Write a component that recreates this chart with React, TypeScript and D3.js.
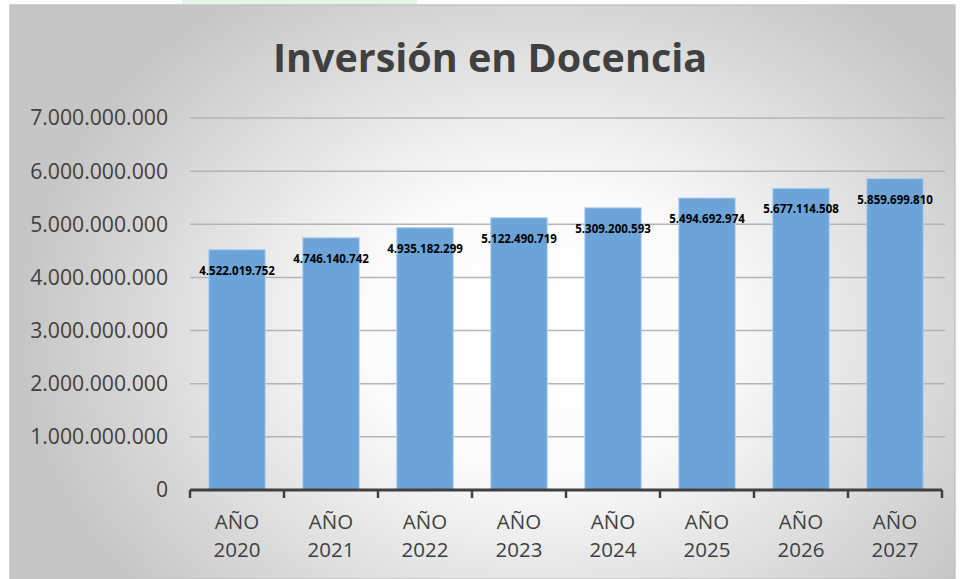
import React from "react";
import * as d3 from "d3";

// data
const years = ["2020", "2021", "2022", "2023", "2024", "2025", "2026", "2027"];
const values = [
  4522019752, 4746140742, 4935182299, 5122490719, 5309200593, 5494692974,
  5677114508, 5859699810,
];
const yTicks = [0, 1e9, 2e9, 3e9, 4e9, 5e9, 6e9, 7e9];
const title = "Inversión en Docencia";

const W = 960;
const H = 579;
const margin = { top: 118, right: 18, bottom: 89, left: 190 };

// es-style thousands separator
const fmt = (v: number) =>
  v === 0 ? "0" : d3.format(",")(v).replace(/,/g, ".");

export default function App() {
  const x = d3
    .scaleBand()
    .domain(years)
    .range([margin.left, 942])
    .paddingInner(0.4)
    .paddingOuter(0.2);

  const y = d3
    .scaleLinear()
    .domain([0, 7e9])
    .range([H - margin.bottom, margin.top]);

  const step = x.step();
  const boundaries = d3.range(years.length + 1).map((i) => margin.left + i * step);

  return (
    <svg
      width={W}
      height={H}
      style={{ position: "absolute", left: 0, top: 0 }}
      fontFamily="'Open Sans', sans-serif"
    >
      <defs>
        <radialGradient
          id="bg"
          gradientUnits="userSpaceOnUse"
          cx={540}
          cy={330}
          r={520}
          gradientTransform="translate(540 330) scale(1 0.78) translate(-540 -330)"
        >
          <stop offset="0" stopColor="#ffffff" />
          <stop offset="0.35" stopColor="#fbfbfb" />
          <stop offset="1" stopColor="#c6c6c6" />
        </radialGradient>
      </defs>
      <rect width={W} height={H} fill="#fff" />
      <rect x={182} y={0} width={235} height={6} fill="#e3f6ea" />
      <rect
        x={10}
        y={5}
        width={945}
        height={H - 5}
        fill="url(#bg)"
        stroke="#c4c4c4"
        strokeWidth={1.5}
      />

      <text
        x={490}
        y={72}
        textAnchor="middle"
        fontSize={39.5}
        fontWeight="bold"
        fill="#404040"
      >
        {title}
      </text>

      {/* gridlines */}
      {yTicks.slice(1).map((t) => (
        <line
          key={t}
          x1={margin.left}
          x2={945}
          y1={y(t)}
          y2={y(t)}
          stroke="#b4b4b4"
          strokeWidth={1.5}
        />
      ))}

      {/* y labels */}
      {yTicks.map((t) => (
        <text
          key={"l" + t}
          x={168}
          y={y(t)}
          dy="0.35em"
          textAnchor="end"
          fontSize={21.2}
          fill="#404040"
        >
          {fmt(t)}
        </text>
      ))}

      {/* bars */}
      {years.map((yr, i) => (
        <rect
          key={yr}
          x={x(yr)}
          y={y(values[i])}
          width={x.bandwidth()}
          height={y(0) - y(values[i])}
          fill="#6ca4d9"
          stroke="#b0d0ee"
          strokeWidth={1}
        />
      ))}

      {/* data labels */}
      {years.map((yr, i) => (
        <text
          key={"d" + yr}
          x={(x(yr) as number) + x.bandwidth() / 2}
          y={y(values[i]) + 21}
          dy="0.35em"
          textAnchor="middle"
          fontSize={11.5}
          fontWeight="bold"
          fill="#000"
        >
          {fmt(values[i])}
        </text>
      ))}

      {/* x axis */}
      <line
        x1={margin.left}
        x2={942}
        y1={y(0)}
        y2={y(0)}
        stroke="#404040"
        strokeWidth={3}
      />
      {boundaries.map((b, i) => (
        <line
          key={"t" + i}
          x1={b}
          x2={b}
          y1={y(0)}
          y2={y(0) + 8}
          stroke="#404040"
          strokeWidth={2.5}
        />
      ))}
      {years.map((yr) => {
        const cx = (x(yr) as number) + x.bandwidth() / 2;
        return (
          <g key={"x" + yr} fill="#404040" fontSize={20.5} textAnchor="middle">
            <text x={cx} y={522} dy="0.35em">
              AÑO
            </text>
            <text x={cx} y={550} dy="0.35em">
              {yr}
            </text>
          </g>
        );
      })}
    </svg>
  );
}
